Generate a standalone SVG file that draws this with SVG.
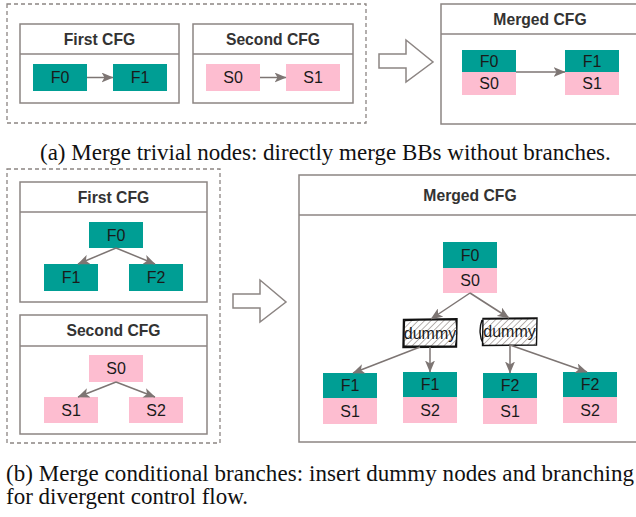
<svg xmlns="http://www.w3.org/2000/svg" width="636" height="517" viewBox="0 0 636 517">
<style>
.box{fill:#fff;stroke:#8c8583;stroke-width:1.5}
.dash{fill:none;stroke:#8c8583;stroke-width:1.3;stroke-dasharray:4 3}
.div{stroke:#8c8583;stroke-width:1.5}
.title{font-family:"Liberation Sans",Arial,sans-serif;font-weight:bold;font-size:15.7px;fill:#333;text-anchor:middle}
.lbl{font-family:"Liberation Sans",Arial,sans-serif;font-size:16px;fill:#1a1a1a;text-anchor:middle}
.teal{fill:#009e94}
.pink{fill:#fdbdd0}
.edge{stroke:#7d7573;stroke-width:1.5;fill:none;marker-end:url(#ah)}
.hollow{fill:#fff;stroke:#8c8583;stroke-width:1.5}
.cap{font-family:"Liberation Serif","Times New Roman",serif;font-size:23px;fill:#111}
.dummy{fill:url(#hatch)}
.sk{fill:none;stroke:#111;stroke-width:1.4}
</style>
<defs>
<marker id="ah" viewBox="0 0 12 10" refX="11.5" refY="5" markerWidth="12" markerHeight="10" markerUnits="userSpaceOnUse" orient="auto">
<path d="M0,0 L12,5 L0,10 L3,5 Z" fill="#7d7573"/>
</marker>
<pattern id="hatch" width="4.5" height="4.5" patternUnits="userSpaceOnUse" patternTransform="rotate(45)">
<rect width="4.5" height="4.5" fill="#fff"/>
<line x1="0" y1="0" x2="0" y2="4.5" stroke="#aca6a4" stroke-width="1.7"/>
</pattern>
</defs>

<!-- (a) -->
<rect class="dash" x="7" y="4" width="359" height="119"/>
<g id="a-first">
<rect class="box" x="20" y="24" width="159" height="79"/>
<line class="div" x1="20" y1="54" x2="179" y2="54"/>
<text class="title" x="99.5" y="44.8">First CFG</text>
</g>
<g id="a-F0"><rect class="teal" x="33" y="64" width="54" height="27"/><text class="lbl" x="60" y="83.2">F0</text></g>
<g id="a-F1"><rect class="teal" x="113" y="64" width="54" height="27"/><text class="lbl" x="140" y="83.2">F1</text></g>
<g id="a-second">
<rect class="box" x="193" y="24" width="160" height="79"/>
<line class="div" x1="193" y1="54" x2="353" y2="54"/>
<text class="title" x="273" y="44.8">Second CFG</text>
</g>
<g id="a-S0"><rect class="pink" x="206" y="64" width="54" height="27"/><text class="lbl" x="233" y="83.2">S0</text></g>
<g id="a-S1"><rect class="pink" x="286" y="64" width="54" height="27"/><text class="lbl" x="313" y="83.2">S1</text></g>
<g id="a-arrow"><polygon class="hollow" points="379,54 406,54 406,40 433,62 406,82 406,68 379,68"/></g>
<g id="a-merged">
<rect class="box" x="441" y="4" width="200" height="120"/>
<line class="div" x1="441" y1="34" x2="641" y2="34"/>
<text class="title" x="540" y="24.8">Merged CFG</text>
</g>
<g id="a-M0"><rect class="teal" x="462" y="50" width="54" height="22"/><rect class="pink" x="462" y="72" width="54" height="23"/>
<text class="lbl" x="489" y="66.8">F0</text><text class="lbl" x="489" y="89">S0</text></g>
<g id="a-M1"><rect class="teal" x="565" y="50" width="54" height="22"/><rect class="pink" x="565" y="72" width="54" height="23"/>
<text class="lbl" x="592" y="66.8">F1</text><text class="lbl" x="592" y="89">S1</text></g>

<text class="cap" x="40" y="160">(a) Merge trivial nodes: directly merge BBs without branches.</text>

<!-- (b) -->
<rect class="dash" x="7" y="169" width="213" height="274"/>
<g id="b-first">
<rect class="box" x="20" y="182" width="187" height="120"/>
<line class="div" x1="20" y1="212" x2="207" y2="212"/>
<text class="title" x="113.5" y="202.5">First CFG</text>
</g>
<g id="b-F0"><rect class="teal" x="89" y="222" width="54" height="26"/><text class="lbl" x="116" y="240.7">F0</text></g>
<g id="b-F1"><rect class="teal" x="44" y="264" width="54" height="27"/><text class="lbl" x="71" y="283.2">F1</text></g>
<g id="b-F2"><rect class="teal" x="129" y="264" width="54" height="27"/><text class="lbl" x="156" y="283.2">F2</text></g>
<g id="b-second">
<rect class="box" x="20" y="315" width="187" height="119"/>
<line class="div" x1="20" y1="346" x2="207" y2="346"/>
<text class="title" x="113.5" y="336">Second CFG</text>
</g>
<g id="b-S0"><rect class="pink" x="89" y="355" width="54" height="27"/><text class="lbl" x="116" y="374.2">S0</text></g>
<g id="b-S1"><rect class="pink" x="44" y="397" width="54" height="26"/><text class="lbl" x="71" y="415.7">S1</text></g>
<g id="b-S2"><rect class="pink" x="129" y="397" width="54" height="26"/><text class="lbl" x="156" y="415.7">S2</text></g>
<g id="b-arrow"><polygon class="hollow" points="233,294 260,294 260,280 286,302 260,322 260,308 233,308"/></g>
<g id="b-merged">
<rect class="box" x="299" y="175" width="342" height="267"/>
<line class="div" x1="299" y1="215" x2="641" y2="215"/>
<text class="title" x="470" y="200.5">Merged CFG</text>
</g>
<g id="b-M0"><rect class="teal" x="443" y="242" width="54" height="26"/><rect class="pink" x="443" y="268" width="54" height="25"/>
<text class="lbl" x="470" y="260.7">F0</text><text class="lbl" x="470" y="286.2">S0</text></g>
<g id="b-D1"><rect class="dummy" x="403" y="319" width="54" height="28"/>
<path class="sk" d="M403.5,319.5 L457,318.8 L456.5,347 L403,347.5 Z M404.5,320.5 C420,319.5 440,320 456,319.8 C457.5,330 457,338 455.5,346 C440,346.5 420,346 404,346.3 C403.8,336 404.2,328 404.5,320.5"/>
<text class="lbl" x="430" y="338.7">dummy</text></g>
<g id="b-D2"><rect class="dummy" x="482" y="318" width="55" height="27"/>
<path class="sk" d="M483,318.5 L537,318 L536.5,345 L482.5,345.5 Z M482,320 C479,328 479.5,338 483.5,344.5 M484,319 C500,318.5 520,319 536,318.6"/>
<text class="lbl" x="509.5" y="337.2">dummy</text></g>
<g id="b-A"><rect class="teal" x="323" y="373" width="54" height="25"/><rect class="pink" x="323" y="398" width="54" height="26"/>
<text class="lbl" x="350" y="391.2">F1</text><text class="lbl" x="350" y="416.7">S1</text></g>
<g id="b-B"><rect class="teal" x="403" y="372" width="54" height="25"/><rect class="pink" x="403" y="397" width="54" height="26"/>
<text class="lbl" x="430" y="390.2">F1</text><text class="lbl" x="430" y="415.7">S2</text></g>
<g id="b-C"><rect class="teal" x="483" y="373" width="54" height="25"/><rect class="pink" x="483" y="398" width="54" height="26"/>
<text class="lbl" x="510" y="391.2">F2</text><text class="lbl" x="510" y="416.7">S1</text></g>
<g id="b-D"><rect class="teal" x="563" y="372" width="54" height="25"/><rect class="pink" x="563" y="397" width="54" height="26"/>
<text class="lbl" x="590" y="390.2">F2</text><text class="lbl" x="590" y="415.7">S2</text></g>

<g id="connectors">
<line class="edge" x1="87" y1="77.5" x2="113" y2="77.5"/>
<line class="edge" x1="260" y1="77.5" x2="286" y2="77.5"/>
<line class="edge" x1="516" y1="72" x2="565" y2="72"/>
<line class="edge" x1="116" y1="248" x2="78" y2="264"/>
<line class="edge" x1="116" y1="248" x2="155" y2="264"/>
<line class="edge" x1="116" y1="382" x2="78" y2="397"/>
<line class="edge" x1="116" y1="382" x2="155" y2="397"/>
<line class="edge" x1="470" y1="293" x2="431" y2="319"/>
<line class="edge" x1="470" y1="293" x2="509" y2="318"/>
<line class="edge" x1="420" y1="347" x2="353" y2="373"/>
<line class="edge" x1="430" y1="347" x2="430" y2="372"/>
<line class="edge" x1="510" y1="345" x2="510" y2="373"/>
<line class="edge" x1="510" y1="345" x2="587" y2="372"/>
</g>

<text class="cap" x="6" y="481" textLength="628" lengthAdjust="spacing">(b) Merge conditional branches: insert dummy nodes and branching</text>
<text class="cap" x="6" y="504">for divergent control flow.</text>
</svg>
